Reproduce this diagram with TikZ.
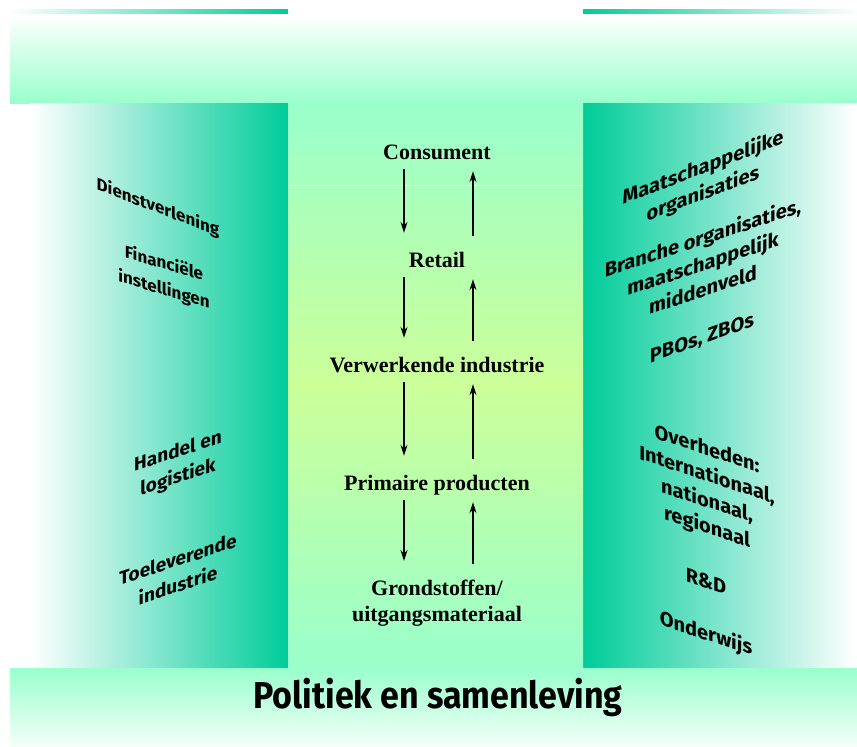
\documentclass[tikz,border=0pt]{standalone}
\usepackage{fontspec}
\setmainfont{Liberation Serif}
\newfontfamily\artfont{Fira Sans}
\usetikzlibrary{arrows.meta}
\definecolor{mint}{HTML}{99FFCC}
\definecolor{lime}{HTML}{CCFF99}
\definecolor{sea}{HTML}{00CC99}
\begin{document}
\begin{tikzpicture}[x=1pt, y=-1pt,
        stage/.style={font=\bfseries\fontsize{22}{26}\selectfont, inner sep=0pt, text height=15pt, text depth=5pt, anchor=base},
        side/.style={font=\artfont\bfseries\fontsize{#1}{26}\selectfont, align=center, inner sep=0pt, transform shape},
        side/.default=18,
        down/.style={-{Stealth[length=11pt, width=7pt]}, line width=1.3pt, shorten <=5pt, shorten >=19pt},
        up/.style={-{Stealth[length=11pt, width=7pt]}, line width=1.3pt, shorten <=16pt, shorten >=7pt}]
        \useasboundingbox (0,0) rectangle (857,747);
        %\draw[gray, dashed] (0,0) grid[step=50] (857,747);

        % bands and columns
        \shade[left color=white, right color=sea] (10,9) rectangle (288,14);
        \shade[left color=sea, right color=white] (583,9) rectangle (857,14);
        \shade[top color=white, bottom color=mint] (10,14) rectangle (857,103);
        \shade[left color=white, right color=sea] (30,103) rectangle (288,668);
        \shade[left color=sea, right color=white] (583,103) rectangle (857,668);
        \shade[top color=mint, bottom color=mint, middle color=lime] (288,103) rectangle (583,668);
        \shade[top color=mint, bottom color=white!90!mint] (10,668) rectangle (857,747);
        \draw[white, thin] (288,185) -- (583,185);

        % chain
        \node[stage] (cons) at (437,159) {Consument};
        \node[stage] (retail) at (437,267) {Retail};
        \node[stage] (verw) at (437,372) {Verwerkende industrie};
        \node[stage] (prim) at (437,490) {Primaire producten};
        \node[font=\bfseries\fontsize{22}{26}\selectfont, align=center, inner sep=0pt, anchor=north] (grond) at (437,580) {Grondstoffen/\\uitgangsmateriaal};

        \draw[down] ([xshift=-33pt]cons.south) -- ([xshift=-33pt]retail.north);
        \draw[up] ([xshift=36pt]retail.north) -- ([xshift=36pt]cons.south);
        \draw[down] ([xshift=-33pt]retail.south) -- ([xshift=-33pt]verw.north);
        \draw[up] ([xshift=36pt]verw.north) -- ([xshift=36pt]retail.south);
        \draw[down] ([xshift=-33pt]verw.south) -- ([xshift=-33pt]prim.north);
        \draw[up] ([xshift=36pt]prim.north) -- ([xshift=36pt]verw.south);
        \draw[down] ([xshift=-33pt]prim.south) -- ([xshift=-33pt]grond.north);
        \draw[up] ([xshift=36pt]grond.north) -- ([xshift=36pt]prim.south);

        % left side
        \node[side=17, yslant=-0.38] (dienst) at (158,208) {Dienstverlening};
        \node[side=17, yslant=-0.3] (fin) at (164,277) {Financiële\\instellingen};
        \node[side=19, yslant=0.33] (handel) at (178,465) {Handel en\\logistiek};
        \node[side=19, yslant=0.33] (toelev) at (178,572) {Toeleverende\\industrie};

        % right side
        \node[side=20, yslant=0.38] (maat) at (703,181) {Maatschappelijke\\organisaties};
        \node[side=20, yslant=0.33] (branche) at (703,263) {Branche organisaties,\\maatschappelijk\\middenveld};
        \node[side=20, yslant=0.36] (pbo) at (702,339) {PBOs, ZBOs};
        \node[side=20, yslant=-0.33] (overh) at (707,489) {Overheden:\\Internationaal,\\nationaal,\\regionaal};
        \node[side=20, yslant=-0.33] (rd) at (706,581) {R\&D};
        \node[side=20, yslant=-0.33] (onderw) at (706,634) {Onderwijs};

        \node[font=\artfont\bfseries\fontsize{34}{36}\selectfont, inner sep=0pt, yscale=1.1, transform shape] (polit) at (438,697) {Politiek en samenleving};
    \end{tikzpicture}
\end{document}
